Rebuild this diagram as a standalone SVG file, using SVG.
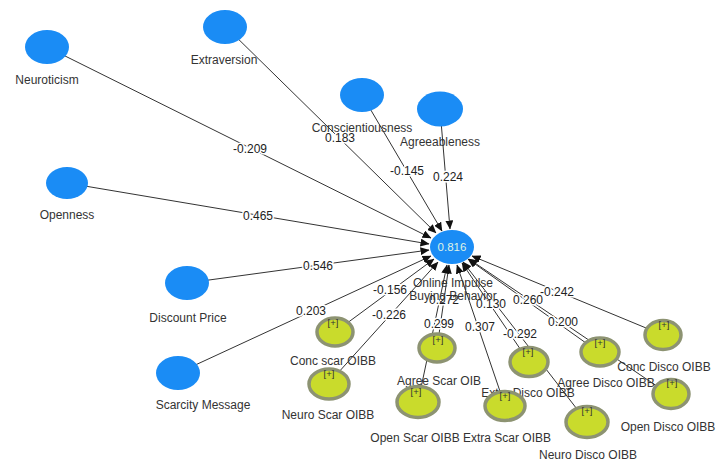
<svg xmlns="http://www.w3.org/2000/svg" width="716" height="462" viewBox="0 0 716 462">
<style>
.lbl{font-family:"Liberation Sans",Arial,sans-serif;font-size:12px;fill:#333;text-anchor:middle}
.cf{font-family:"Liberation Sans",Arial,sans-serif;font-size:12px;fill:#222;text-anchor:middle;stroke:#fff;stroke-width:3px;paint-order:stroke;stroke-linejoin:round}
.plus{font-family:"Liberation Sans",Arial,sans-serif;font-size:9.5px;fill:#333;text-anchor:middle}
.blue{fill:#1a8cf5}
.grn{fill:#c9db2c;stroke:#8d9372;stroke-width:3.5}
.edge{stroke:#333;stroke-width:1;fill:none;marker-end:url(#ah)}
</style>
<defs>
<marker id="ah" markerWidth="9" markerHeight="8" refX="8.5" refY="4" orient="auto" markerUnits="userSpaceOnUse">
<path d="M0,0 L9,4 L0,8 z" fill="#111"/>
</marker>
</defs>
<rect width="716" height="462" fill="#fff"/>
<g id="connectors">
<line class="edge" x1="47" y1="47" x2="431" y2="238"/>
<line class="edge" x1="226" y1="27" x2="436" y2="233"/>
<line class="edge" x1="362" y1="95" x2="442" y2="231"/>
<line class="edge" x1="440" y1="109" x2="450" y2="229"/>
<line class="edge" x1="67" y1="183" x2="429" y2="244"/>
<line class="edge" x1="187" y1="283" x2="429" y2="250"/>
<line class="edge" x1="178" y1="373" x2="431" y2="256"/>
<line class="edge" x1="335" y1="332" x2="434" y2="259"/>
<line class="edge" x1="328" y1="384" x2="438" y2="262"/>
<line class="edge" x1="437" y1="348" x2="449" y2="265"/>
<line class="edge" x1="418" y1="402" x2="447" y2="265"/>
<line class="edge" x1="505" y1="406" x2="457" y2="265"/>
<line class="edge" x1="529" y1="362" x2="462" y2="263"/>
<line class="edge" x1="587" y1="422" x2="463" y2="262"/>
<line class="edge" x1="600" y1="353" x2="468" y2="259"/>
<line class="edge" x1="663" y1="335" x2="472" y2="256"/>
<line class="edge" x1="670" y1="395" x2="469" y2="259"/>
<text class="cf" x="250" y="153">-0.209</text>
<text class="cf" x="340" y="142">0.183</text>
<text class="cf" x="407" y="175">-0.145</text>
<text class="cf" x="448" y="181">0.224</text>
<text class="cf" x="258" y="220">0.465</text>
<text class="cf" x="318" y="270">0.546</text>
<text class="cf" x="311" y="315">0.203</text>
<text class="cf" x="390" y="294">-0.156</text>
<text class="cf" x="389" y="319">-0.226</text>
<text class="cf" x="444" y="304">0.272</text>
<text class="cf" x="439" y="328">0.299</text>
<text class="cf" x="480" y="331">0.307</text>
<text class="cf" x="491" y="308">0.130</text>
<text class="cf" x="520" y="338">-0.292</text>
<text class="cf" x="528" y="304">0.260</text>
<text class="cf" x="557" y="296">-0.242</text>
<text class="cf" x="563" y="326">0.200</text>
</g>
<g id="neuroticism"><ellipse class="blue" cx="47" cy="47" rx="22" ry="17"/><text class="lbl" x="47" y="84">Neuroticism</text></g>
<g id="extraversion"><ellipse class="blue" cx="225" cy="27" rx="22" ry="17"/><text class="lbl" x="224" y="64">Extraversion</text></g>
<g id="conscientiousness"><ellipse class="blue" cx="362" cy="95" rx="22" ry="17"/><text class="lbl" x="362" y="132">Conscientiousness</text></g>
<g id="agreeableness"><ellipse class="blue" cx="440" cy="109" rx="23" ry="17.5"/><text class="lbl" x="440" y="146">Agreeableness</text></g>
<g id="openness"><ellipse class="blue" cx="67" cy="183" rx="21" ry="16"/><text class="lbl" x="67" y="219">Openness</text></g>
<g id="discount-price"><ellipse class="blue" cx="187" cy="283" rx="22" ry="17"/><text class="lbl" x="188" y="322">Discount Price</text></g>
<g id="scarcity-message"><ellipse class="blue" cx="178" cy="373" rx="22" ry="17"/><text class="lbl" x="203" y="409">Scarcity Message</text></g>
<g id="oibb"><ellipse class="blue" cx="452" cy="247" rx="22" ry="17"/><text x="452" y="251" text-anchor="middle" font-family="Liberation Sans, Arial, sans-serif" font-size="11.5" fill="#dff3e6">0.816</text><text class="lbl" x="453" y="287">Online Impulse</text><text class="lbl" x="453" y="300">Buying Behavior</text></g>
<g id="conc-scar"><ellipse class="grn" cx="335" cy="332" rx="18" ry="14"/><text class="plus" x="333" y="326">[+]</text><text class="lbl" x="333" y="365">Conc scar OIBB</text></g>
<g id="neuro-scar"><ellipse class="grn" cx="329" cy="384" rx="20" ry="15"/><text class="plus" x="329" y="377">[+]</text><text class="lbl" x="328" y="419">Neuro Scar OIBB</text></g>
<g id="agree-scar"><ellipse class="grn" cx="437" cy="348" rx="18" ry="14"/><text class="plus" x="438" y="343">[+]</text><text class="lbl" x="439" y="385">Agree Scar OIB</text></g>
<g id="extra-disco"><ellipse class="grn" cx="529" cy="362" rx="19" ry="14.5"/><text class="plus" x="528" y="355">[+]</text><text class="lbl" x="528" y="397">Extra Disco OIBB</text></g>
<g id="open-scar"><ellipse class="grn" cx="418" cy="402" rx="21" ry="15.5"/><text class="plus" x="416" y="395">[+]</text><text class="lbl" x="415" y="442">Open Scar OIBB</text></g>
<g id="extra-scar"><ellipse class="grn" cx="505" cy="406" rx="20" ry="14.5"/><text class="plus" x="505" y="399">[+]</text><text class="lbl" x="507" y="442">Extra Scar OIBB</text></g>
<g id="neuro-disco"><ellipse class="grn" cx="587" cy="422" rx="21" ry="15.5"/><text class="plus" x="587" y="414">[+]</text><text class="lbl" x="588" y="459">Neuro Disco OIBB</text></g>
<g id="agree-disco"><ellipse class="grn" cx="600" cy="352" rx="19" ry="14"/><text class="plus" x="600" y="346">[+]</text><text class="lbl" x="606" y="387">Agree Disco OIBB</text></g>
<g id="conc-disco"><ellipse class="grn" cx="663" cy="335" rx="18" ry="14.5"/><text class="plus" x="664" y="328">[+]</text><text class="lbl" x="664" y="371">Conc Disco OIBB</text></g>
<g id="open-disco"><ellipse class="grn" cx="671" cy="394" rx="18" ry="14.5"/><text class="plus" x="672" y="386">[+]</text><text class="lbl" x="668" y="431">Open Disco OIBB</text></g>
</svg>
